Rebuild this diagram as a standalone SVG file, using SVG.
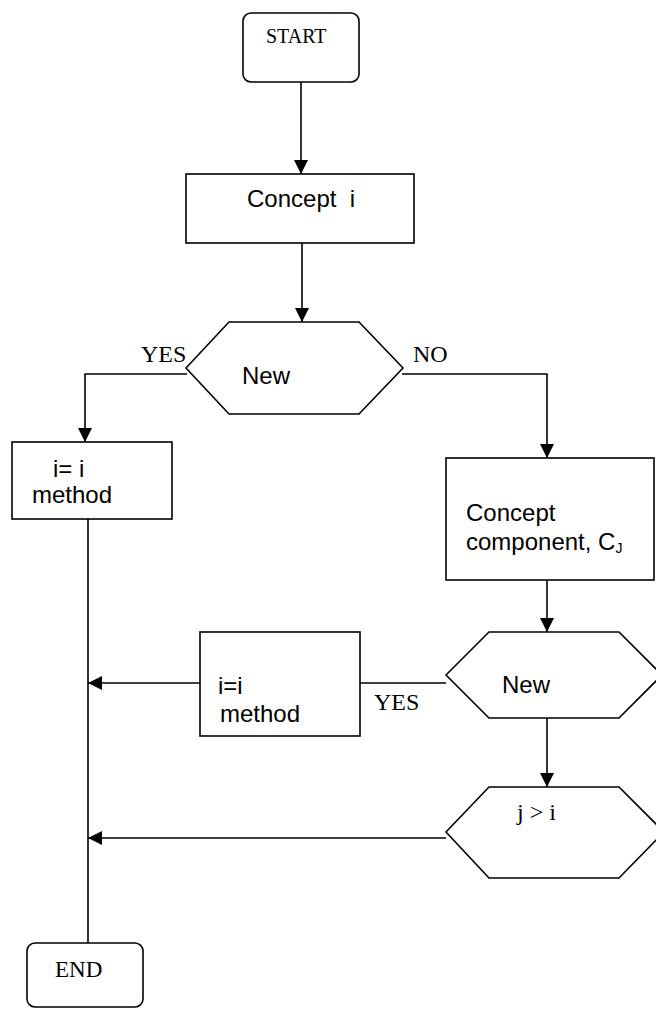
<svg xmlns="http://www.w3.org/2000/svg" width="656" height="1009" viewBox="0 0 656 1009">
<defs>
<style>
.s{fill:#fff;stroke:#000;stroke-width:1.6}
.c{fill:none;stroke:#000;stroke-width:1.6}
.a{font-family:"Liberation Sans",Arial,sans-serif;font-size:24px;fill:#000}
.t{font-family:"Liberation Serif","Times New Roman",serif;font-size:24px;fill:#000}
</style>
<marker id="ah" markerUnits="userSpaceOnUse" markerWidth="14" markerHeight="14" viewBox="0 0 14 14" refX="14" refY="7" orient="auto">
<path d="M0,0 L14,7 L0,14 Z" fill="#000"/>
</marker>
</defs>
<g id="connectors">
<line class="c" x1="301" y1="82" x2="301" y2="174" marker-end="url(#ah)"/>
<line class="c" x1="302" y1="243" x2="302" y2="322" marker-end="url(#ah)"/>
<polyline class="c" points="187,374 85,374 85,442" marker-end="url(#ah)"/>
<polyline class="c" points="402,374 547,374 547,458" marker-end="url(#ah)"/>
<line class="c" x1="88" y1="519" x2="88" y2="943"/>
<line class="c" x1="547" y1="580" x2="547" y2="632" marker-end="url(#ah)"/>
<line class="c" x1="446" y1="683" x2="360" y2="683"/>
<line class="c" x1="200" y1="683" x2="88" y2="683" marker-end="url(#ah)"/>
<line class="c" x1="547" y1="718" x2="547" y2="787" marker-end="url(#ah)"/>
<line class="c" x1="446" y1="838" x2="88" y2="838" marker-end="url(#ah)"/>
<text class="t" x="141" y="362">YES</text>
<text class="t" x="413" y="362">NO</text>
<text class="t" x="374" y="710">YES</text>
</g>
<g id="start">
<rect class="s" x="243" y="13" width="116" height="69" rx="8"/>
<text class="t" x="266" y="43" style="font-size:20px">START</text>
</g>
<g id="concept">
<rect class="s" x="186" y="174" width="228" height="69"/>
<text class="a" x="247" y="207" xml:space="preserve">Concept  i</text>
</g>
<g id="new1">
<polygon class="s" points="186,368 229,322 359,322 403,368 359,414 229,414"/>
<text class="a" x="242" y="384">New</text>
</g>
<g id="method1">
<rect class="s" x="12" y="442" width="160" height="77"/>
<text class="a" x="53" y="477">i= i</text>
<text class="a" x="32" y="503">method</text>
</g>
<g id="component">
<rect class="s" x="446" y="458" width="208" height="122"/>
<text class="a" x="466" y="521">Concept</text>
<text class="a" x="466" y="550">component, C<tspan dy="3" style="font-size:14px">J</tspan></text>
</g>
<g id="new2">
<polygon class="s" points="446,675 489,632 619,632 662,675 619,718 489,718"/>
<text class="a" x="502" y="693">New</text>
</g>
<g id="method2">
<rect class="s" x="200" y="632" width="160" height="104"/>
<text class="a" x="218" y="694">i=i</text>
<text class="a" x="220" y="722">method</text>
</g>
<g id="cond">
<polygon class="s" points="446,832 489,787 619,787 664,832 619,878 489,878"/>
<text class="t" x="517" y="820">j &gt; i</text>
</g>
<g id="end">
<rect class="s" x="27" y="943" width="116" height="64" rx="8"/>
<text class="t" x="55" y="977" style="font-size:23px">END</text>
</g>
</svg>
